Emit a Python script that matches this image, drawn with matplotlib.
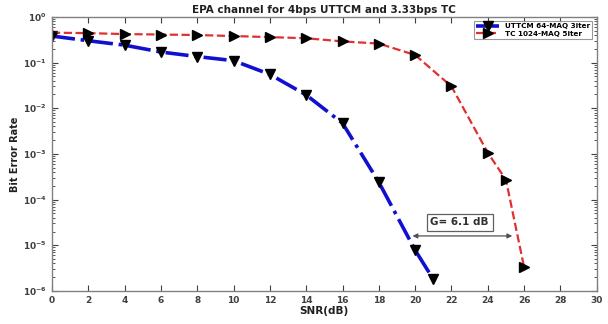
import matplotlib.pyplot as plt
import numpy as np

# UTTCM 64-MAQ 3iter
snr_uttcm = [0, 2, 4, 6, 8, 10, 12, 14, 16, 18, 20, 21]
ber_uttcm = [0.38, 0.30, 0.24, 0.17, 0.135, 0.11, 0.055, 0.0195, 0.0047, 2.4e-4, 7.8e-6, 1.8e-6]

# TC 1024-MAQ 5iter
snr_tc = [0, 2, 4, 6, 8, 10, 12, 14, 16, 18, 20, 22, 24, 25, 26]
ber_tc = [0.45, 0.44, 0.42, 0.41, 0.40, 0.38, 0.36, 0.34, 0.29, 0.26, 0.146, 0.03, 0.00106, 2.7e-4, 3.3e-6]

gain_x = [19.7, 25.5]
gain_y = 1.6e-5
gain_txt = "G= 6.1 dB"

fig = plt.figure(figsize=(6.08, 3.24), dpi=100)
ax = fig.add_axes([0.0855, 0.102, 0.896, 0.846])

ax.semilogy(snr_uttcm, ber_uttcm, color='#1010d0', linestyle='-.', linewidth=2.6,
            marker='v', markersize=7, markerfacecolor='k', markeredgecolor='k',
            label='UTTCM 64-MAQ 3iter')
ax.semilogy(snr_tc, ber_tc, color='#e03030', linestyle='--', linewidth=1.6,
            marker='>', markersize=7, markerfacecolor='k', markeredgecolor='k',
            label='TC 1024-MAQ 5iter')

ax.annotate('', xy=(gain_x[0], gain_y), xytext=(gain_x[1], gain_y),
            arrowprops=dict(arrowstyle='<|-|>', color='#505050', lw=0.9,
                            mutation_scale=7))
ax.text(22.45, 3.2e-5, gain_txt, ha='center', va='center', fontsize=7.5,
        fontweight='bold', color='#303030',
        bbox=dict(boxstyle='square,pad=0.35', fc='white', ec='#606060', lw=0.9))

ax.set_xlim(0, 30)
ax.set_ylim(1e-6, 1)
ax.set_xticks(np.arange(0, 31, 2))
ax.set_yticks([1e-6, 1e-5, 1e-4, 1e-3, 1e-2, 1e-1, 1])
ax.tick_params(which='both', direction='in', top=True, right=True,
               labelsize=6.5, colors='#404040', labelcolor='#404040')
ax.tick_params(which='major', length=4)
ax.tick_params(which='minor', length=2)
for lab in ax.get_xticklabels() + ax.get_yticklabels():
    lab.set_fontweight('bold')
for s in ax.spines.values():
    s.set_color('#808080')
    s.set_linewidth(1.0)

ax.set_title('EPA channel for 4bps UTTCM and 3.33bps TC', fontsize=7.5,
             fontweight='bold', pad=3, color='#202020')
ax.set_xlabel('SNR(dB)', fontsize=7.5, fontweight='bold', labelpad=1, color='#202020')
ax.set_ylabel('Bit Error Rate', fontsize=7, fontweight='bold', labelpad=2, color='#202020')

leg = ax.legend(loc='upper right', fontsize=5.2, frameon=True, fancybox=False,
                edgecolor='#808080', borderpad=0.3, handlelength=3.2,
                labelspacing=0.2, borderaxespad=0.6)
for t in leg.get_texts():
    t.set_fontweight('bold')
leg.get_frame().set_linewidth(0.8)

fig.savefig('out.png', dpi=100)
